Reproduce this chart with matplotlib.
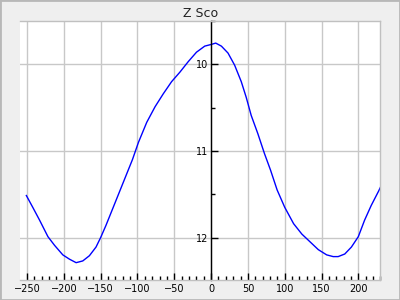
import matplotlib
matplotlib.use("Agg")
import matplotlib.pyplot as plt
from matplotlib.patches import Rectangle
from matplotlib.ticker import MultipleLocator

title = "Z Sco"
phase = [-250.9, -241.9, -232.9, -221.6, -212.6, -201.4, -192.3, -183.3, -174.3, -165.3,
         -156.3, -150, -142.8, -133.8, -124.8, -115.8, -106.8, -98.6, -87.4, -76.1,
         -64.9, -53.6, -42.3, -31.1, -19.8, -8.6, 0.5, 6.3, 14, 23, 32, 41, 47.7, 54.5,
         63.5, 72.5, 80.7, 89.7, 100, 112.1, 123.3, 134.5, 145.7, 157, 165.9, 172.6,
         181.6, 190.6, 200, 208.5, 217.5, 227.8, 230]
mag = [11.515, 11.656, 11.80, 11.99, 12.09, 12.20, 12.25, 12.29, 12.27, 12.21,
       12.11, 12.00, 11.86, 11.67, 11.48, 11.29, 11.10, 10.90, 10.67, 10.49,
       10.34, 10.20, 10.09, 9.97, 9.86, 9.79, 9.77, 9.755, 9.79, 9.87, 10.01, 10.20, 10.38, 10.59,
       10.80, 11.03, 11.22, 11.45, 11.65, 11.84, 11.96, 12.05, 12.14, 12.20, 12.22, 12.22,
       12.19, 12.11, 11.99, 11.80, 11.63, 11.46, 11.42]
x_ticks = [-250, -200, -150, -100, -50, 0, 50, 100, 150, 200]
y_ticks = [10, 11, 12]

fig = plt.figure(figsize=(4, 3), dpi=100, facecolor="#efefef")
ax = fig.add_axes([0.051, 0.0667, 0.9, 0.8633])
ax.set_facecolor("white")
ax.plot(phase, mag, color="#0000ff", lw=1.0)
ax.set_xlim(-259, 230)
ax.set_ylim(12.49, 9.5)
ax.set_xticks(x_ticks)
ax.set_yticks(y_ticks)
ax.xaxis.set_minor_locator(MultipleLocator(10))
ax.yaxis.set_minor_locator(MultipleLocator(0.5))
ax.grid(True, which="major", color="#c8c8c8", lw=1.0)
ax.set_axisbelow(True)
for s in ["top", "right", "bottom"]:
    ax.spines[s].set_color("#c0c0c0")
    ax.spines[s].set_linewidth(1.0)
ax.spines["left"].set_position(("data", 0))
ax.spines["left"].set_color("black")
ax.spines["left"].set_linewidth(1.0)
ax.tick_params(axis="x", which="major", direction="in", length=5, width=1, colors="black", labelsize=7, pad=3)
ax.tick_params(axis="x", which="minor", direction="in", length=3, width=1, colors="black")
ax.tick_params(axis="y", which="major", direction="in", length=5, width=1, colors="black", labelsize=7, pad=2)
ax.tick_params(axis="y", which="minor", direction="in", length=3, width=1, colors="black")
ax.set_title(title, fontsize=9, color="#222222", pad=3)
fig.patches.append(Rectangle((0, 0), 1, 1, transform=fig.transFigure, fill=False,
                             ec="#b8b8b8", lw=2))
fig.savefig("out.png", dpi=100, facecolor=fig.get_facecolor())
